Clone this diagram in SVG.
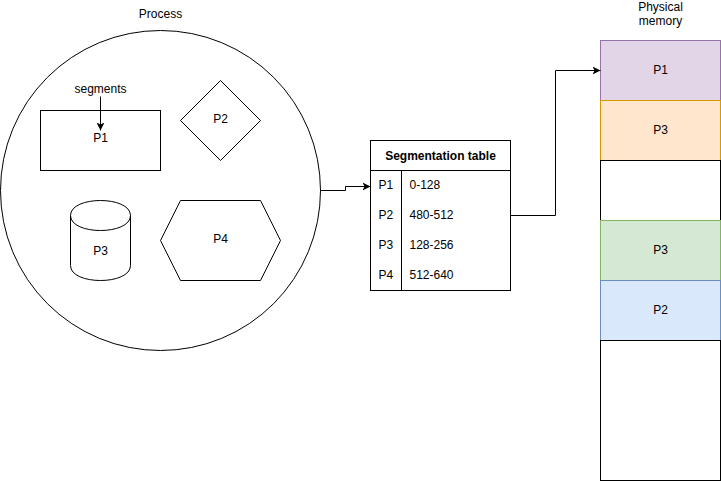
<svg xmlns="http://www.w3.org/2000/svg" width="721" height="481" viewBox="0 0 721 481">
<defs>
<style>
text{font-family:"Liberation Sans",Arial,sans-serif;font-size:12px;fill:#000}
.c{text-anchor:middle;dominant-baseline:central}
.l{dominant-baseline:central}
.b{font-weight:bold}
.s{fill:#fff;stroke:#000;stroke-width:1}
.e{fill:none;stroke:#000;stroke-width:1}
</style>
<marker id="arr" markerWidth="10" markerHeight="10" refX="8" refY="4" orient="auto" markerUnits="userSpaceOnUse">
<path d="M0,0 L8,4 L0,8 L2,4 Z" fill="#000"/>
</marker>
</defs>
<rect width="721" height="481" fill="#fff"/>
<g transform="translate(0.5,0.5)">
<g id="process">
<circle class="s" cx="160" cy="190" r="160"/>
<text class="c" x="160" y="13">Process</text>
</g>
<g id="p1">
<rect class="s" x="40" y="110" width="120" height="60"/>
<text class="c" x="100" y="137">P1</text>
</g>
<g id="segments">
<text class="c" x="100" y="88">segments</text>
</g>
<g id="p2">
<path class="s" d="M220,80 L260,120 L220,160 L180,120 Z"/>
<text class="c" x="220" y="118">P2</text>
</g>
<g id="p3">
<path class="s" d="M70,215 C70,195 130,195 130,215 L130,265 C130,285 70,285 70,265 Z"/>
<path class="e" d="M70,215 C70,235 130,235 130,215"/>
<text class="c" x="100" y="250">P3</text>
</g>
<g id="p4">
<path class="s" d="M160,240 L180,200 L260,200 L280,240 L260,280 L180,280 Z"/>
<text class="c" x="220" y="238">P4</text>
</g>
<g id="table">
<rect class="s" x="370" y="140" width="140" height="150"/>
<line class="e" x1="370" y1="170" x2="510" y2="170"/>
<line class="e" x1="401" y1="170" x2="401" y2="290"/>
<text class="c b" x="440" y="155">Segmentation table</text>
<text class="l" x="378" y="184">P1</text>
<text class="l" x="409" y="184">0-128</text>
<text class="l" x="378" y="214">P2</text>
<text class="l" x="409" y="214">480-512</text>
<text class="l" x="378" y="244">P3</text>
<text class="l" x="409" y="244">128-256</text>
<text class="l" x="378" y="274">P4</text>
<text class="l" x="409" y="274">512-640</text>
</g>
<g id="memory">
<rect x="600" y="40" width="120" height="60" fill="#e1d5e7" stroke="#9673a6"/>
<text class="c" x="660" y="69">P1</text>
<rect x="600" y="100" width="120" height="60" fill="#ffe6cc" stroke="#d79b00"/>
<text class="c" x="660" y="129">P3</text>
<rect class="s" x="600" y="160" width="120" height="60"/>
<rect x="600" y="220" width="120" height="60" fill="#d5e8d4" stroke="#82b366"/>
<text class="c" x="660" y="249">P3</text>
<rect x="600" y="280" width="120" height="60" fill="#dae8fc" stroke="#6c8ebf"/>
<text class="c" x="660" y="309">P2</text>
<rect class="s" x="600" y="340" width="120" height="140"/>
<text class="c" x="660" y="6">Physical</text>
<text class="c" x="660" y="20">memory</text>
</g>
<g id="connectors">
<path class="e" d="M100,96 L100,130" marker-end="url(#arr)"/>
<path class="e" d="M320,190 L345,190 L345,186 L370,186" marker-end="url(#arr)"/>
<path class="e" d="M510,215 L555,215 L555,70 L600,70" marker-end="url(#arr)"/>
</g>
</g>
</svg>
